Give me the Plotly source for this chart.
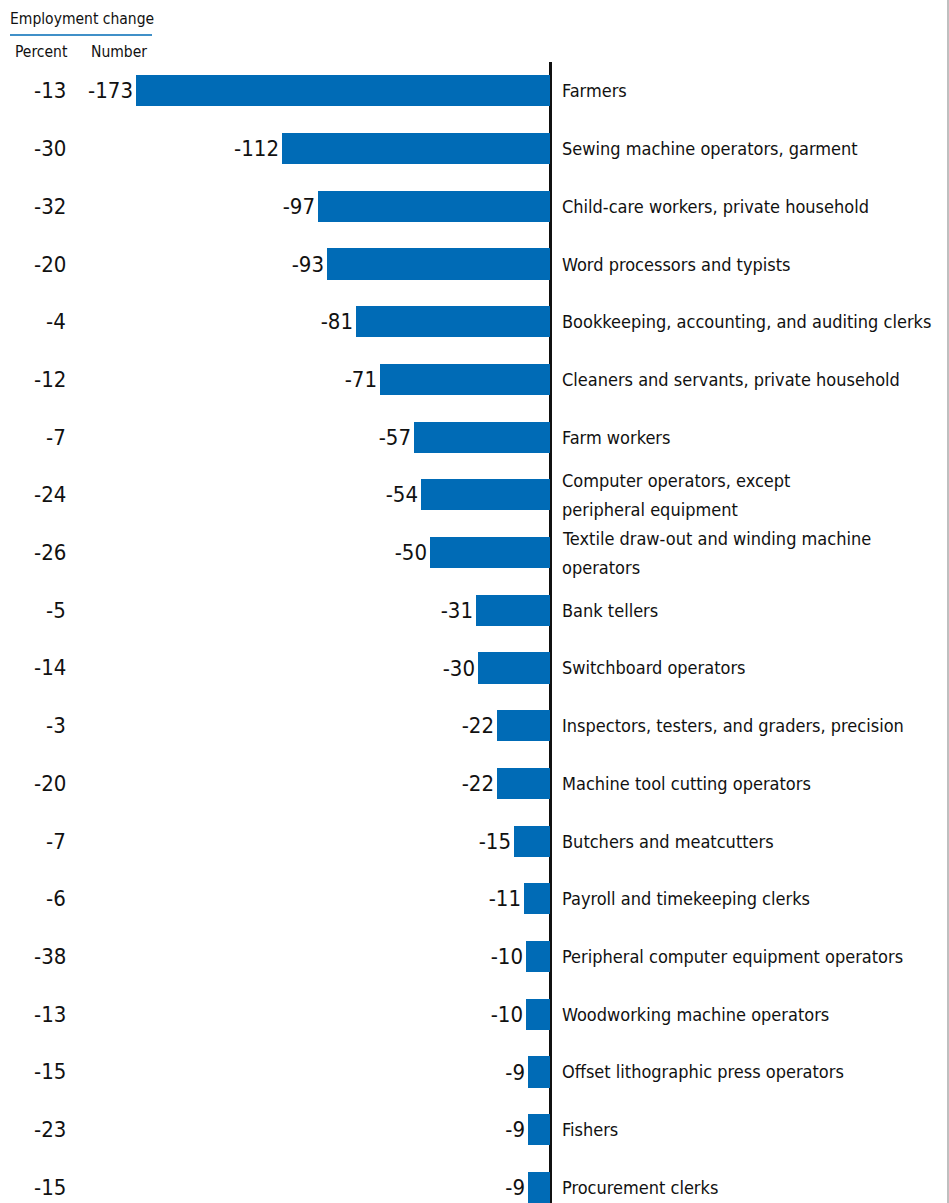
import plotly.graph_objects as go

# Occupations with the largest job declines
occupations = [
    "Farmers",
    "Sewing machine operators, garment",
    "Child-care workers, private household",
    "Word processors and typists",
    "Bookkeeping, accounting, and auditing clerks",
    "Cleaners and servants, private household",
    "Farm workers",
    "Computer operators, except<br>peripheral equipment",
    "Textile draw-out and winding machine<br>operators",
    "Bank tellers",
    "Switchboard operators",
    "Inspectors, testers, and graders, precision",
    "Machine tool cutting operators",
    "Butchers and meatcutters",
    "Payroll and timekeeping clerks",
    "Peripheral computer equipment operators",
    "Woodworking machine operators",
    "Offset lithographic press operators",
    "Fishers",
    "Procurement clerks",
]
number_change = [-173, -112, -97, -93, -81, -71, -57, -54, -50, -31,
                 -30, -22, -22, -15, -11, -10, -10, -9, -9, -9]
percent_change = [-13, -30, -32, -20, -4, -12, -7, -24, -26, -5,
                  -14, -3, -20, -7, -6, -38, -13, -15, -23, -15]

FONT = "DejaVu Sans Condensed, Liberation Sans Narrow, sans-serif"
BLUE = "#006bb6"
INK = "#111111"
W, H = 949, 1203
TOP = 62                      # top edge of the plotting area, px
PLOT_H = H - TOP


def py(px):
    """Convert a pixel row (from the top of the page) to paper y."""
    return (H - px) / PLOT_H


idx = list(range(len(occupations)))

fig = go.Figure()
fig.add_trace(go.Bar(
    x=number_change,
    y=idx,
    orientation="h",
    marker=dict(color=BLUE, line=dict(width=0)),
    width=0.54,
    text=[str(v) for v in number_change],
    textposition="outside",
    outsidetextfont=dict(family=FONT, size=22, color=INK),
    cliponaxis=False,
    hoverinfo="skip",
))

annotations = []
for i, (name, pct) in enumerate(zip(occupations, percent_change)):
    lines = name.split("<br>")
    n = len(lines)
    for k, line in enumerate(lines):
        annotations.append(dict(
            x=0, y=i, xref="x", yref="y", text=line, showarrow=False,
            xanchor="left", yanchor="middle", align="left", xshift=10,
            yshift=(n - 1) * 14.5 - k * 29,
            font=dict(family=FONT, size=18, color=INK),
        ))
    annotations.append(dict(
        x=68 / W, y=i, xref="paper", yref="y", text=str(pct), showarrow=False,
        xanchor="right", yanchor="middle",
        font=dict(family=FONT, size=22, color=INK),
    ))

# Column headers above the plotting area
annotations += [
    dict(x=8 / W, y=py(19), xref="paper", yref="paper", text="Employment change",
         showarrow=False, xanchor="left", yanchor="middle",
         font=dict(family=FONT, size=15.5, color=INK)),
    dict(x=70 / W, y=py(52), xref="paper", yref="paper", text="Percent",
         showarrow=False, xanchor="right", yanchor="middle",
         font=dict(family=FONT, size=15.5, color=INK)),
    dict(x=149 / W, y=py(52), xref="paper", yref="paper", text="Number",
         showarrow=False, xanchor="right", yanchor="middle",
         font=dict(family=FONT, size=15.5, color=INK)),
]

shapes = [
    # underline beneath the header
    dict(type="line", xref="paper", yref="paper", x0=10 / W, x1=152 / W,
         y0=py(35), y1=py(35), line=dict(color=BLUE, width=1.5)),
    # frame edge on the right
    dict(type="line", xref="paper", yref="paper", x0=948 / W, x1=948 / W,
         y0=0, y1=py(0), line=dict(color="#aaaaaa", width=1.5)),
]

scale = 2.393  # pixels per thousand jobs
fig.update_layout(
    width=W, height=H,
    margin=dict(l=0, r=0, t=TOP, b=0),
    paper_bgcolor="white", plot_bgcolor="white",
    showlegend=False,
    bargap=0,
    xaxis=dict(range=[-550 / scale, (W - 550) / scale], showgrid=False,
               showticklabels=False, ticks="", zeroline=True,
               zerolinecolor=INK, zerolinewidth=2.5, fixedrange=True),
    yaxis=dict(range=[19.27, -0.5], showgrid=False, showticklabels=False,
               ticks="", zeroline=False, fixedrange=True),
    annotations=annotations,
    shapes=shapes,
)

fig.write_html("out.html")
